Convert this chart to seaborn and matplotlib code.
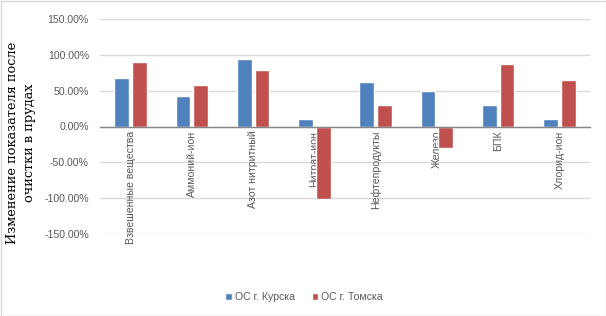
import pandas as pd
import seaborn as sns
import matplotlib.pyplot as plt
from matplotlib.patches import Rectangle
from matplotlib.ticker import FuncFormatter

# данные
categories = ['Взвешенные вещества', 'Аммоний-ион', 'Азот нитритный', 'Нитрат-ион',
              'Нефтепродукты', 'Железо', 'БПК', 'Хлорид-ион']
kursk = [68, 43, 94.5, 10, 62.5, 50, 30.5, 10]
tomsk = [90, 58, 79, -101, 30.5, -30, 87.5, 65]
series = ['ОС г. Курска', 'ОС г. Томска']
yticks = [-150, -100, -50, 0, 50, 100, 150]

df = pd.DataFrame({
    'cat': categories * 2,
    'val': kursk + tomsk,
    'ser': [series[0]] * len(categories) + [series[1]] * len(categories),
})

sns.set_theme(style='white')
plt.rcParams['font.family'] = ['Liberation Sans', 'DejaVu Sans']

fig = plt.figure(figsize=(6.06, 3.16), dpi=100)
ax = fig.add_axes([100 / 606, 1 - 234 / 316, 490 / 606, 215 / 316])

# сетка под столбиками
for t in yticks:
    ax.axhline(t, color='#D9D9D9', linewidth=1, zorder=0)

sns.barplot(data=df, x='cat', y='val', hue='ser', order=categories,
            palette=['#4F81BD', '#C0504D'], width=0.58, gap=0.18,
            saturation=1, ax=ax, legend=True)

ax.set_ylim(-150, 150)
ax.set_yticks(yticks)
ax.yaxis.set_major_formatter(FuncFormatter(lambda v, p: f'{v:.2f}%'))
for s in ['top', 'right', 'left']:
    ax.spines[s].set_visible(False)
ax.spines['bottom'].set_position(('data', 0))
ax.spines['bottom'].set_color('#868686')
ax.spines['bottom'].set_linewidth(1)
ax.tick_params(axis='y', length=0, pad=8, labelsize=7.6, labelcolor='#595959')
ax.tick_params(axis='x', length=0, pad=3, labelsize=7.6, labelcolor='#595959')
for lbl in ax.get_xticklabels():
    lbl.set_rotation(90)
    lbl.set_va('top')
    lbl.set_ha('center')
ax.set_xlabel('')
ax.set_ylabel('')
ax.set_xlim(-0.5, len(categories) - 0.5)

leg = ax.legend(loc='center', bbox_to_anchor=(304 / 606, 19 / 316),
                bbox_transform=fig.transFigure, ncol=2, frameon=False,
                fontsize=7.6, handlelength=0.6, handleheight=0.6,
                handletextpad=0.3, columnspacing=1.6)
for t in leg.get_texts():
    t.set_color('#595959')

fig.text(21 / 606, 173 / 316, 'Изменение показателя после\nочистки в прудах',
         rotation=90, ha='center', va='center', fontsize=9.3,
         family=['DejaVu Serif', 'Liberation Serif'], linespacing=1.3,
         color='black')

fig.patches.append(Rectangle((0.5 / 606, 0.5 / 316), 605 / 606, 315 / 316,
                             transform=fig.transFigure, fill=False,
                             edgecolor='#D9D9D9', linewidth=1))

fig.savefig('out.png', dpi=100)
